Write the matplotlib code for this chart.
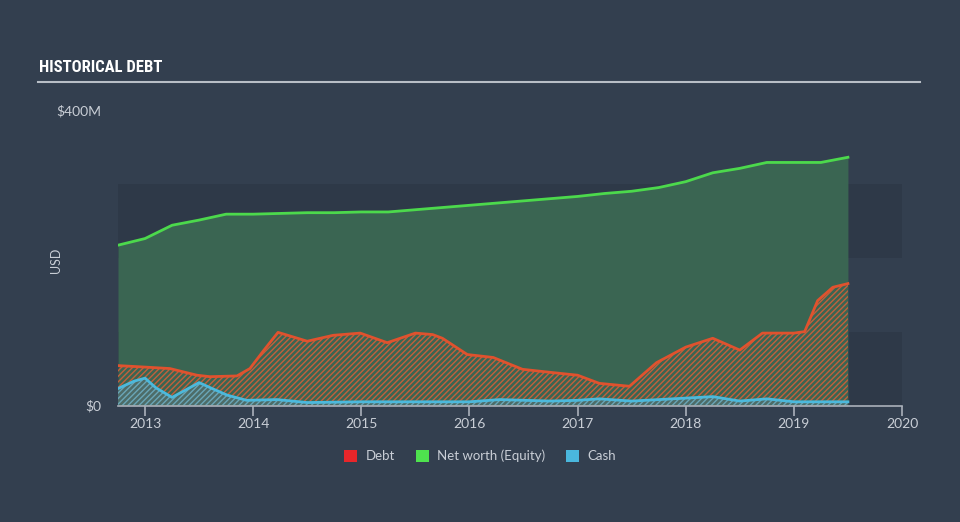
import numpy as np
import matplotlib
matplotlib.use("Agg")
import matplotlib.pyplot as plt
from matplotlib.patches import Patch
from matplotlib import font_manager

# values in $M
eq_years = [2012.75, 2013.0, 2013.25, 2013.5, 2013.75, 2014.0, 2014.25, 2014.5, 2014.75,
            2015.0, 2015.25, 2015.5, 2015.75, 2016.0, 2016.25, 2016.5, 2016.75, 2017.0,
            2017.25, 2017.5, 2017.75, 2018.0, 2018.25, 2018.5, 2018.75, 2019.0, 2019.25, 2019.5]
equity = [217, 226, 244, 251, 259, 259, 260, 261, 261,
          262, 262, 265, 268, 271, 274, 277, 280, 283,
          287, 290, 295, 303, 315, 321, 329, 329, 329, 336]

debt_years = [2012.75, 2013.0, 2013.23, 2013.48, 2013.6, 2013.85, 2013.97, 2014.1, 2014.23,
              2014.5, 2014.74, 2014.99, 2015.24, 2015.36, 2015.5, 2015.66, 2015.75, 2015.98,
              2016.22, 2016.49, 2016.74, 2017.0, 2017.2, 2017.48, 2017.73, 2018.0, 2018.25,
              2018.5, 2018.71, 2019.0, 2019.1, 2019.22, 2019.36, 2019.5]
debt = [54, 52, 50, 41, 39, 40, 50, 75, 99,
        87, 95, 98, 85, 91, 98, 96, 91, 69,
        65, 49, 45, 41, 30, 26, 58, 79, 91,
        75, 98, 98, 100, 142, 160, 165]

cash_years = [2012.75, 2012.9, 2013.0, 2013.1, 2013.25, 2013.5, 2013.62, 2013.76, 2013.94,
              2014.22, 2014.5, 2015.0, 2015.5, 2016.0, 2016.28, 2016.75, 2017.0, 2017.2,
              2017.5, 2018.0, 2018.25, 2018.5, 2018.75, 2019.0, 2019.5]
cash = [23, 33, 37, 24, 11, 31, 23, 14, 7,
        8, 4, 5, 5, 5, 8, 6, 7, 9,
        6, 10, 12, 6, 9, 5, 5]

year_ticks = [2013, 2014, 2015, 2016, 2017, 2018, 2019, 2020]

bg = '#333f4f'
band = '#2e3948'
green_line = '#4cd94c'
green_fill = '#3a6552'
red_line = '#e0522e'
blue_line = '#4cb9dc'
text_col = '#c9ced6'

plt.rcParams['hatch.linewidth'] = 1.0
plt.rcParams['font.family'] = ['Lato', 'DejaVu Sans']

# narrow face for the title if one is around
names = {f.name for f in font_manager.fontManager.ttflist}
title_family = 'DejaVu Sans'
for cand in ['Liberation Sans Narrow', 'Roboto Condensed', 'Open Sans Condensed', 'DejaVu Sans']:
    if cand in names:
        title_family = cand
        break

fig = plt.figure(figsize=(9.6, 5.22), dpi=100, facecolor=bg)
ax = fig.add_axes([118 / 960, (522 - 405.5) / 522, (902 - 118) / 960, 295.5 / 522])
ax.set_facecolor(bg)

ax.axhspan(0, 100, color=band, lw=0, zorder=0)
ax.axhspan(200, 300, color=band, lw=0, zorder=0)

ax.fill_between(eq_years, 0, equity, color=green_fill, lw=0, zorder=1)
ax.plot(eq_years, equity, color=green_line, lw=2, zorder=5, solid_joinstyle='round')

ax.fill_between(debt_years, 0, debt, facecolor='none', edgecolor='#c2603c',
                hatch='//////', lw=0, zorder=2)
ax.plot(debt_years, debt, color=red_line, lw=2, zorder=5, solid_joinstyle='round')

ax.fill_between(cash_years, 0, cash, facecolor='#4d6c68', edgecolor='#6aa6b8',
                hatch='//////', lw=0, zorder=3)
ax.plot(cash_years, cash, color=blue_line, lw=2, zorder=5, solid_joinstyle='round')

ax.set_xlim(2012.75, 2020)
ax.set_ylim(0, 400)
for s in ['top', 'right', 'left']:
    ax.spines[s].set_visible(False)
ax.spines['bottom'].set_color('#aab1ba')
ax.spines['bottom'].set_linewidth(1.2)
ax.spines['bottom'].set_zorder(6)

ax.set_xticks(year_ticks)
ax.set_xticklabels([str(y) for y in year_ticks])
ax.tick_params(axis='x', colors='#aab1ba', labelcolor=text_col, length=7, width=1.2,
               labelsize=10, pad=2)
ax.set_yticks([0, 400])
ax.set_yticklabels(['$0', '$400M'])
ax.tick_params(axis='y', length=0, labelcolor=text_col, labelsize=10, pad=12)
ax.set_ylabel('USD', color=text_col, fontsize=9)
ax.yaxis.set_label_coords(-56 / 784, 0.49)

fig.text(39 / 960, 1 - 68 / 522, 'HISTORICAL DEBT', color='white', fontsize=12,
         fontweight='bold', family=title_family, fontstretch='condensed',
         va='center', ha='left')
fig.add_artist(plt.Line2D([38 / 960, 920 / 960], [1 - 82 / 522, 1 - 82 / 522],
                          color='#b8bec6', lw=1.5))

handles = [Patch(facecolor='#e8262a', edgecolor='none', label='Debt'),
           Patch(facecolor='#4ee24e', edgecolor='none', label='Net worth (Equity)'),
           Patch(facecolor='#4ab7dd', edgecolor='none', label='Cash')]
leg = fig.legend(handles=handles, loc='center', bbox_to_anchor=(0.5, 1 - 456 / 522),
                 ncol=3, frameon=False, handlelength=1.0, handleheight=1.0,
                 handletextpad=0.6, columnspacing=1.6, fontsize=9.5)
for t in leg.get_texts():
    t.set_color(text_col)

fig.savefig('out.png', dpi=100, facecolor=bg)
